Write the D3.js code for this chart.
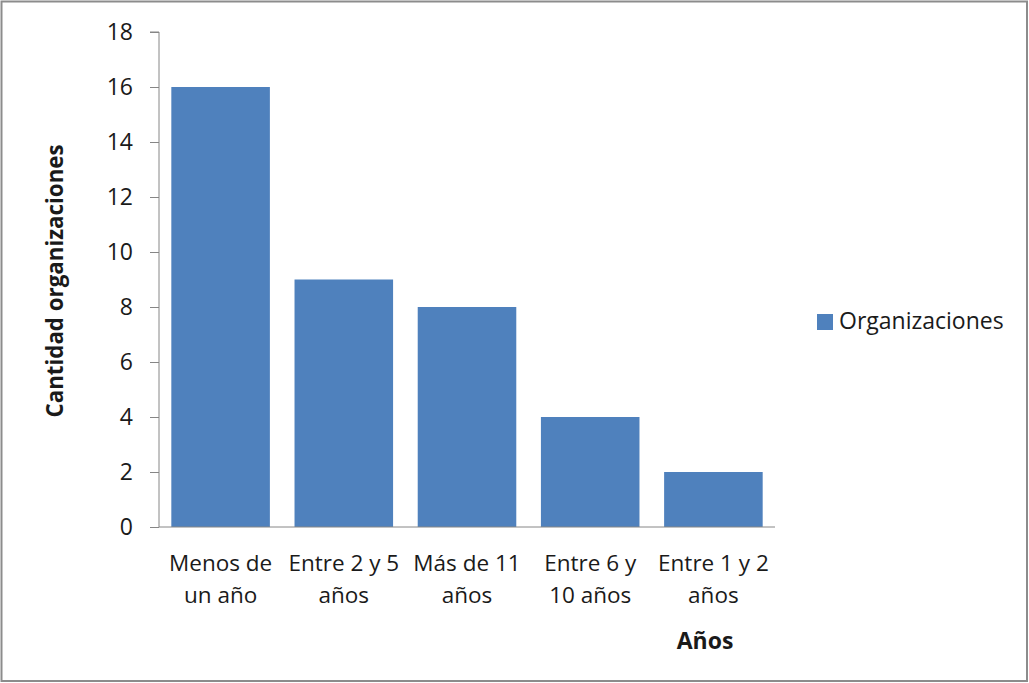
<!DOCTYPE html>
<html><head><meta charset="utf-8">
<script src="https://cdn.jsdelivr.net/npm/d3@7"></script>
<style>body{margin:0;background:#fff}svg{display:block}text{font-family:"Open Sans",sans-serif;fill:#1a1a1a}</style>
</head><body>
<script>
const categories = [["Menos de","un año"],["Entre 2 y 5","años"],["Más de 11","años"],["Entre 6 y","10 años"],["Entre 1 y 2","años"]];
const values = [16, 9, 8, 4, 2];
const yTicks = [0, 2, 4, 6, 8, 10, 12, 14, 16, 18];
const seriesName = "Organizaciones";
const xTitle = "Años";
const yTitle = "Cantidad organizaciones";

(function(){
const W = 1029, H = 683;
const svg = d3.select("body").append("svg").attr("width", W).attr("height", H);
svg.append("rect").attr("x",1.5).attr("y",1.5).attr("width",W-3.5).attr("height",H-3.5)
  .attr("fill","#fff").attr("stroke","#8c8c8c").attr("stroke-width",2);

const pL = 159, pR = 775, pT = 32, pB = 527;
const x = d3.scaleBand().domain(d3.range(categories.length)).range([pL, pR]).paddingInner(0.2).paddingOuter(0.1);
const y = d3.scaleLinear().domain([0, 18]).range([pB, pT]);

svg.selectAll("rect.bar").data(values).join("rect").attr("class","bar")
  .attr("x",(d,i)=>x(i)).attr("width",x.bandwidth())
  .attr("y",d=>y(d)).attr("height",d=>y(0)-y(d)).attr("fill","#4f81bd");

const yAxis = svg.append("g").attr("transform",`translate(${pL},0)`)
  .call(d3.axisLeft(y).tickValues(yTicks).tickSize(9).tickPadding(17).tickFormat(d3.format("d")));
yAxis.select(".domain").attr("stroke","#868686").attr("d",`M-9,${pT}H0V${pB}`);
yAxis.selectAll(".tick line").attr("stroke","#868686");
yAxis.selectAll(".tick text").attr("font-size",23).attr("font-family","Open Sans").attr("fill","#1a1a1a");

const xAxis = svg.append("g").attr("transform",`translate(0,${pB})`)
  .call(d3.axisBottom(x).tickSize(0).tickFormat(""));
xAxis.select(".domain").attr("stroke","#868686").attr("d",`M${pL},0H${pR}`);
xAxis.selectAll(".tick").each(function(d){
  const t = d3.select(this).append("text").attr("text-anchor","middle").attr("font-size",22.5).attr("fill","#1a1a1a");
  categories[d].forEach((line,k)=>{
    t.append("tspan").attr("x",0).attr("y",44+k*32).text(line);
  });
});

svg.append("text").attr("x",705).attr("y",649).attr("text-anchor","middle")
  .attr("font-size",23).attr("font-weight","bold").text(xTitle);
svg.append("text").attr("transform",`translate(63,281) rotate(-90)`).attr("text-anchor","middle")
  .attr("font-size",22.3).attr("font-weight","bold").text(yTitle);

svg.append("rect").attr("x",817).attr("y",314).attr("width",16).attr("height",16).attr("fill","#4f81bd");
svg.append("text").attr("x",839).attr("y",329).attr("font-size",23).text(seriesName);
})();
</script>
</body></html>
